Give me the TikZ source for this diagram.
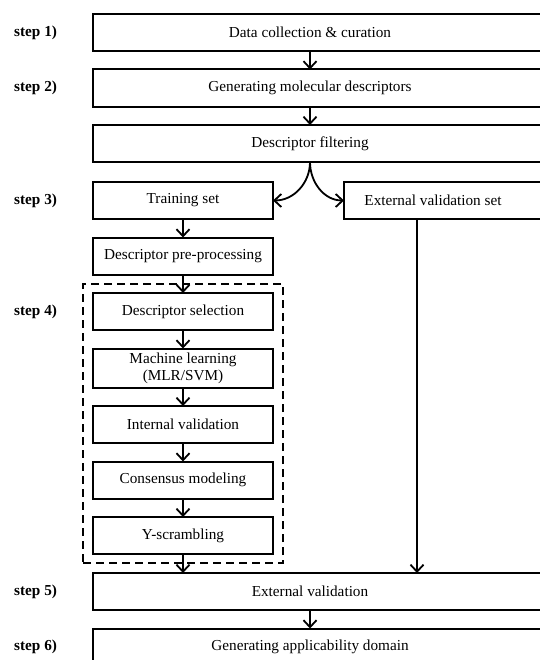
\documentclass[tikz,border=0pt]{standalone}
\usepackage{fontspec}
\setmainfont{Liberation Serif}
\usetikzlibrary{positioning,fit,arrows.meta}

\begin{document}
\begin{tikzpicture}[x=1bp, y=-1bp, node distance = 18.5bp and 71bp,
  box/.style = {draw, line width=2bp, outer sep=0pt, minimum height=37bp, inner ysep=1bp,
    font=\fontsize{15.3}{17}\selectfont},
  narrow/.style = {box, minimum width=180bp},
  wide/.style 2 args = {box, minimum width=#1, execute at end node={\hspace*{#2}}},
  stepl/.style = {anchor=west, inner sep=0pt, font=\fontsize{15.3}{17}\selectfont\bfseries},
  grp/.style = {draw, line width=2bp, dash pattern=on 8bp off 5bp,
    inner xsep=10bp, inner ysep=9bp},
  arr/.style = {line width=1.8bp, -{Straight Barb[length=7bp, width=13bp]}}
  ]
  \useasboundingbox (0,0) rectangle (540,660);
  \clip (0,0) rectangle (540,660);
  \coordinate (lm) at (14,0);
  \coordinate (mid) at (310,0);
  \coordinate (vx) at (417,0);

  \node[wide={467bp}{33bp}, anchor=north west] (data) at (93,14) {Data collection \& curation};
  \node[wide={467bp}{33bp}, below=of data] (gen) {Generating molecular descriptors};
  \node[wide={467bp}{33bp}, below=of gen] (filter) {Descriptor filtering};
  \node[narrow, below=20bp of filter.south west, anchor=north west] (train) {Training set};
  \node[wide={216bp}{38bp}, right=of train] (extset) {External validation set};
  \node[narrow, below=of train] (pre) {Descriptor pre-processing};
  \node[narrow, below=of pre] (sel) {Descriptor selection};
  \node[narrow, below=of sel, minimum height=39bp, align=center] (ml) {Machine learning\\(MLR/SVM)};
  \node[narrow, below=of ml] (int) {Internal validation};
  \node[narrow, below=of int] (cons) {Consensus modeling};
  \node[narrow, below=of cons] (yscr) {Y-scrambling};
  \node[wide={467bp}{33bp}, below=19bp of yscr.south west, anchor=north west] (extval) {External validation};
  \node[wide={467bp}{33bp}, below=of extval] (gad) {Generating applicability domain};

  \node[grp, fit=(sel) (yscr)] (stage4) {};

  \node[stepl] (s1) at (lm |- data) {step 1)};
  \node[stepl] (s2) at (lm |- gen) {step 2)};
  \node[stepl] (s3) at (lm |- train) {step 3)};
  \node[stepl] (s4) at (lm |- sel) {step 4)};
  \node[stepl] (s5) at (lm |- extval) {step 5)};
  \node[stepl] (s6) at (lm |- gad) {step 6)};

  \draw[arr] (data.south -| mid) -- (gen.north -| mid);
  \draw[arr] (gen.south -| mid) -- (filter.north -| mid);
  \draw[arr] (filter.south -| mid) to[out=-90, in=0] (train.east);
  \draw[arr] (filter.south -| mid) to[out=-90, in=180] (extset.west);
  \draw[arr] (train) -- (pre);
  \draw[arr] (pre) -- (sel);
  \draw[arr] (sel) -- (ml);
  \draw[arr] (ml) -- (int);
  \draw[arr] (int) -- (cons);
  \draw[arr] (cons) -- (yscr);
  \draw[arr] (yscr.south) -- (yscr.south |- extval.north);
  \draw[arr] (extset.south -| vx) -- (extval.north -| vx);
  \draw[arr] (extval.south -| mid) -- (gad.north -| mid);
\end{tikzpicture}
\end{document}
